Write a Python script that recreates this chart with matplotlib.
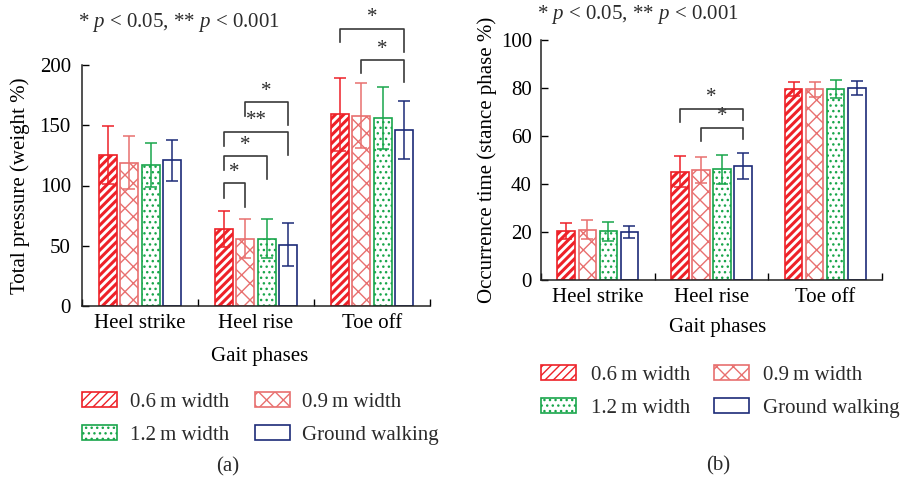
import numpy as np
import matplotlib
matplotlib.use('Agg')
import matplotlib.pyplot as plt

plt.rcParams['font.family'] = ['Liberation Serif', 'DejaVu Serif']
plt.rcParams['mathtext.fontset'] = 'custom'
plt.rcParams['mathtext.rm'] = 'Liberation Serif'
plt.rcParams['mathtext.it'] = 'Liberation Serif:italic'
plt.rcParams['font.size'] = 15
plt.rcParams['text.color'] = '#2b2b2b'

# DATA
phases = ['Heel strike', 'Heel rise', 'Toe off']
series = ['0.6\u2009m width', '0.9\u2009m width', '1.2\u2009m width', 'Ground walking']

# (a) total pressure, weight %
pres_06 = [125, 64, 159]
pres_09 = [119, 56, 158]
pres_12 = [117, 56, 156]
pres_gw = [121, 51, 146]
pres_06_sd = [24, 15, 30]
pres_09_sd = [22, 16, 27]
pres_12_sd = [18, 16, 26]
pres_gw_sd = [17, 18, 24]

# (b) occurrence time, stance phase %
occ_06 = [20.4, 45.1, 79.7]
occ_09 = [21.0, 45.7, 79.4]
occ_12 = [20.3, 46.1, 79.6]
occ_gw = [20.1, 47.5, 79.9]
occ_06_sd = [3.5, 6.4, 3.0]
occ_09_sd = [4.0, 5.4, 3.2]
occ_12_sd = [4.0, 6.0, 3.6]
occ_gw_sd = [2.4, 5.4, 3.0]

# significance brackets: (phase, bar i, bar j, top, left leg end, right leg end, label)
sig_a = [(1, 0, 1, 102, 90, 82, '*'),
         (1, 0, 2, 124.5, 113, 105.5, '*'),
         (1, 0, 3, 144.5, 133, 125, '**'),
         (1, 1, 3, 169, 158, 150, '*'),
         (2, 0, 3, 230, 219, 211, '*'),
         (2, 1, 3, 204, 193, 186, '*')]
sig_b = [(1, 0, 3, 71.3, 65.7, 66.7, '*'),
         (1, 1, 3, 63.5, 58, 58.8, '*')]

colors = ['#EE2128', '#E8706F', '#19A64B', '#1C2B78']
hatches = ['////', 'xx', '...', '']
hatch_lw = [2.2, 1.0, 1.0, 1.0]

W, H = 904, 482
fig = plt.figure(figsize=(W / 100, H / 100), dpi=100)


def px_axes(x0, y0, x1, y1):
    return fig.add_axes([x0 / W, 1 - y1 / H, (x1 - x0) / W, (y1 - y0) / H])


step, width = 0.185, 0.155
offsets = (np.arange(4) - 1.5) * step
centers = np.arange(len(phases)) + 0.5


def draw_panel(ax, vals, sds, ymax, yticks, ylabel, sigs):
    handles = []
    for k in range(4):
        x = centers + offsets[k]
        b = ax.bar(x, vals[k], width, color='white', edgecolor=colors[k],
                   hatch=hatches[k], linewidth=1.2, label=series[k], zorder=2)
        for p in b.patches:
            if hasattr(p, 'set_hatch_linewidth'):
                p.set_hatch_linewidth(hatch_lw[k])
        ax.errorbar(x, vals[k], yerr=sds[k], fmt='none', ecolor=colors[k],
                    elinewidth=1.1, capsize=4.5, capthick=1.1, zorder=3)
        handles.append(b)

    for g, i, j, top, lb, rb, lab in sigs:
        xi = centers[g] + offsets[i]
        xj = centers[g] + offsets[j]
        ax.plot([xi, xi, xj, xj], [lb, top, top, rb], color='#3a3a3a',
                lw=1.2, clip_on=False, zorder=4)
        ax.annotate(lab, ((xi + xj) / 2, top), xytext=(0, 1),
                    textcoords='offset points', ha='center', va='bottom',
                    fontsize=15, annotation_clip=False)

    ax.set_xlim(0, 3)
    ax.set_ylim(0, ymax)
    ax.set_yticks(yticks)
    ax.set_xticks([0, 1, 2, 3])
    ax.set_xticklabels([])
    ax.set_xticks(centers, minor=True)
    ax.set_xticklabels(phases, minor=True)
    ax.tick_params(axis='x', which='major', direction='in', length=5, width=1)
    ax.tick_params(axis='x', which='minor', length=0, pad=6)
    ax.tick_params(axis='y', direction='in', length=5, width=1, pad=8)
    for s in ['top', 'right']:
        ax.spines[s].set_visible(False)
    for s in ['left', 'bottom']:
        ax.spines[s].set_linewidth(1.1)
        ax.spines[s].set_color('#222222')
    ax.set_ylabel(ylabel)
    ax.set_xlabel('Gait phases')
    return handles


ax1 = px_axes(82, 65, 430, 306)
h1 = draw_panel(ax1, [pres_06, pres_09, pres_12, pres_gw],
                [pres_06_sd, pres_09_sd, pres_12_sd, pres_gw_sd],
                200, [0, 50, 100, 150, 200], 'Total pressure (weight %)', sig_a)
ax1.yaxis.set_label_coords(-0.15, 0.5)
ax1.xaxis.set_label_coords(0.509, -0.172)

ax2 = px_axes(541, 40, 882, 280)
h2 = draw_panel(ax2, [occ_06, occ_09, occ_12, occ_gw],
                [occ_06_sd, occ_09_sd, occ_12_sd, occ_gw_sd],
                100, [0, 20, 40, 60, 80, 100], 'Occurrence time (stance phase %)', sig_b)
ax2.tick_params(axis='y', pad=6.5)
ax2.yaxis.set_label_coords(-0.13, 0.5)
ax2.xaxis.set_label_coords(0.519, -0.16)

fig.text(78 / W, 1 - 22 / H, '* $p$ < 0.05, ** $p$ < 0.001', ha='left', va='center')
fig.text(537 / W, 1 - 15 / H, '* $p$ < 0.05, ** $p$ < 0.001', ha='left', va='center')

order = [0, 2, 1, 3]
leg_kw = dict(loc='upper left', ncol=2, frameon=False, borderpad=0,
              borderaxespad=0, handlelength=1.7, handleheight=0.72,
              labelspacing=0.64)
fig.legend([h1[k] for k in order], [series[k] for k in order],
           bbox_to_anchor=(82 / W, 1 - 392 / H), handletextpad=0.58,
           columnspacing=1.25, **leg_kw)
fig.legend([h2[k] for k in order], [series[k] for k in order],
           bbox_to_anchor=(541 / W, 1 - 365 / H), handletextpad=0.68,
           columnspacing=1.15, **leg_kw)

fig.text(228 / W, 1 - 467 / H, '(a)', ha='center', va='center')
fig.text(718 / W, 1 - 466 / H, '(b)', ha='center', va='center')

fig.savefig('out.png', dpi=100)
